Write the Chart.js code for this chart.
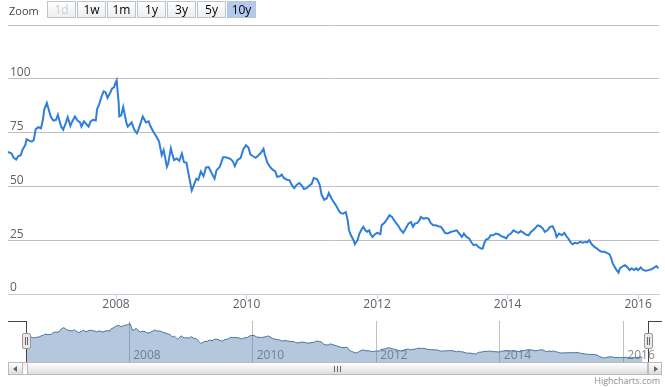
<!DOCTYPE html>
<html>
<head>
<meta charset="utf-8">
<script src="https://cdn.jsdelivr.net/npm/chart.js@4.4.1/dist/chart.umd.min.js"></script>
<style>
  body { margin: 0; background: #fff; font-family: "Open Sans", sans-serif; }
  #wrap { position: relative; width: 665px; height: 387px; overflow: hidden; }
  canvas { position: absolute; left: 0; }
  #main { top: 0; }
  #nav { top: 315px; }
  .zoom-label { position: absolute; left: 9px; top: 3px; font-size: 11px; color: #444; }
  .btn { position: absolute; top: 1px; width: 27px; height: 15px; border: 1px solid #bcc4d2;
         background: linear-gradient(#ffffff, #eeeeee); font-size: 12px; line-height: 15px;
         text-align: center; color: #000; }
  .btn.off { color: #cccccc; }
  .btn.on { background: #b4caec; }
  .line { position: absolute; background: #444; }
  .handle { position: absolute; top: 333px; width: 7px; height: 14px; border: 1px solid #9a9a9a;
            border-radius: 2px; background: #ebe7e8; }
  .handle::before, .handle::after { content: ""; position: absolute; top: 3px; width: 1px; height: 8px; background: #666; }
  .handle::before { left: 2px; }
  .handle::after { left: 4px; }
  .sb { position: absolute; top: 362px; height: 11px; border: 1px solid #bbb; }
  .track { left: 8px; width: 652px; background: linear-gradient(#eeeeee, #ffffff); }
  .thumb { left: 27px; width: 619px; background: linear-gradient(#ffffff, #dddddd); }
  .sbtn { background: linear-gradient(#ffffff, #dddddd); }
  .rifle { position: absolute; top: 3px; width: 1px; height: 6px; background: #666; }
  .arrow { position: absolute; top: 3px; width: 0; height: 0; border-top: 3px solid transparent; border-bottom: 3px solid transparent; }
  .credits { position: absolute; right: 5px; top: 375px; font-size: 9px; color: #909090; line-height: 11px; }
</style>
</head>
<body>
<div id="wrap">
  <canvas id="main" width="665" height="314"></canvas>
  <canvas id="nav" width="665" height="47"></canvas>

  <div class="zoom-label">Zoom</div>
  <div class="btn off" style="left:47px">1d</div>
  <div class="btn" style="left:77px">1w</div>
  <div class="btn" style="left:107px">1m</div>
  <div class="btn" style="left:137px">1y</div>
  <div class="btn" style="left:167px">3y</div>
  <div class="btn" style="left:197px">5y</div>
  <div class="btn on" style="left:227px">10y</div>

  <!-- navigator outline -->
  <div class="line" style="left:8px; top:321px; width:19px; height:1px"></div>
  <div class="line" style="left:26px; top:321px; width:1px; height:41px"></div>
  <div class="line" style="left:648px; top:321px; width:1px; height:41px"></div>
  <div class="line" style="left:648px; top:321px; width:14px; height:1px"></div>
  <div class="handle" style="left:22px"></div>
  <div class="handle" style="left:644px"></div>

  <!-- scrollbar -->
  <div class="sb track"></div>
  <div class="sb thumb">
    <div class="rifle" style="left:306px"></div>
    <div class="rifle" style="left:309px"></div>
    <div class="rifle" style="left:312px"></div>
  </div>
  <div class="sb sbtn" style="left:8px; width:13px">
    <div class="arrow" style="left:4px; border-right:4px solid #666"></div>
  </div>
  <div class="sb sbtn" style="left:648px; width:12px">
    <div class="arrow" style="left:5px; border-left:4px solid #666"></div>
  </div>

  <div class="credits">Highcharts.com</div>
</div>

<script>
// dates as decimal years
const dates = [
  2006.345, 2006.36, 2006.40, 2006.43, 2006.47, 2006.50, 2006.54, 2006.57, 2006.61, 2006.63,
  2006.67, 2006.71, 2006.74, 2006.77, 2006.81, 2006.85, 2006.88, 2006.90, 2006.94, 2006.97,
  2007.00, 2007.04, 2007.08, 2007.11, 2007.13, 2007.16, 2007.19, 2007.23, 2007.26, 2007.30,
  2007.33, 2007.37, 2007.41, 2007.45, 2007.47, 2007.51, 2007.54, 2007.58, 2007.61, 2007.65,
  2007.69, 2007.71, 2007.74, 2007.78, 2007.81, 2007.84, 2007.87, 2007.91, 2007.94, 2007.97,
  2007.99, 2008.01, 2008.04, 2008.05, 2008.08, 2008.11, 2008.14, 2008.16, 2008.18, 2008.24,
  2008.28, 2008.32, 2008.35, 2008.41, 2008.46, 2008.50, 2008.53, 2008.57, 2008.62, 2008.66,
  2008.70, 2008.73, 2008.75, 2008.78, 2008.80, 2008.84, 2008.86, 2008.89, 2008.93, 2008.97,
  2009.01, 2009.04, 2009.08, 2009.12, 2009.16, 2009.20, 2009.23, 2009.26, 2009.30, 2009.34,
  2009.38, 2009.42, 2009.47, 2009.51, 2009.54, 2009.59, 2009.64, 2009.67, 2009.71, 2009.75,
  2009.79, 2009.82, 2009.86, 2009.91, 2009.95, 2009.99, 2010.03, 2010.06, 2010.10, 2010.14,
  2010.18, 2010.22, 2010.26, 2010.28, 2010.32, 2010.36, 2010.40, 2010.44, 2010.47, 2010.51,
  2010.54, 2010.57, 2010.62, 2010.66, 2010.69, 2010.73, 2010.77, 2010.81, 2010.85, 2010.88,
  2010.92, 2010.96, 2011.00, 2011.03, 2011.08, 2011.12, 2011.15, 2011.19, 2011.23, 2011.26,
  2011.30, 2011.33, 2011.37, 2011.41, 2011.44, 2011.48, 2011.52, 2011.55, 2011.57, 2011.60,
  2011.64, 2011.66, 2011.70, 2011.73, 2011.77, 2011.79, 2011.82, 2011.85, 2011.88, 2011.90,
  2011.93, 2011.97, 2012.00, 2012.05, 2012.07, 2012.11, 2012.15, 2012.19, 2012.23, 2012.26,
  2012.29, 2012.33, 2012.36, 2012.40, 2012.44, 2012.48, 2012.52, 2012.55, 2012.58, 2012.62,
  2012.65, 2012.67, 2012.71, 2012.75, 2012.79, 2012.82, 2012.86, 2012.90, 2012.94, 2012.98,
  2013.01, 2013.04, 2013.08, 2013.12, 2013.17, 2013.22, 2013.26, 2013.30, 2013.33, 2013.37,
  2013.41, 2013.45, 2013.48, 2013.52, 2013.55, 2013.59, 2013.62, 2013.64, 2013.67, 2013.71,
  2013.74, 2013.78, 2013.82, 2013.86, 2013.90, 2013.94, 2013.98, 2014.01, 2014.05, 2014.09,
  2014.13, 2014.17, 2014.20, 2014.24, 2014.28, 2014.32, 2014.36, 2014.40, 2014.44, 2014.46,
  2014.50, 2014.54, 2014.57, 2014.61, 2014.65, 2014.69, 2014.73, 2014.75, 2014.79, 2014.83,
  2014.87, 2014.90, 2014.93, 2014.97, 2015.00, 2015.03, 2015.07, 2015.11, 2015.15, 2015.19,
  2015.22, 2015.25, 2015.29, 2015.33, 2015.37, 2015.41, 2015.44, 2015.48, 2015.52, 2015.56,
  2015.59, 2015.61, 2015.64, 2015.67, 2015.70, 2015.72, 2015.77, 2015.80, 2015.84, 2015.87,
  2015.90, 2015.94, 2015.97, 2016.00, 2016.04, 2016.08, 2016.12, 2016.16, 2016.19, 2016.23,
  2016.28, 2016.31
];

const closes = [
  66.0, 66.0, 65.3, 63.4, 62.5, 64.0, 64.5, 67.2, 69.2, 71.9,
  71.3, 70.8, 71.6, 76.6, 77.5, 77.0, 80.9, 85.6, 88.8, 85.6,
  82.5, 80.6, 80.9, 83.3, 80.9, 77.8, 76.3, 79.4, 82.2, 78.1,
  80.2, 82.5, 80.6, 79.7, 77.8, 80.2, 79.1, 77.8, 80.2, 80.9,
  80.6, 85.9, 88.0, 91.9, 94.2, 93.8, 91.1, 93.5, 95.5, 96.0,
  98.0, 99.3, 89.0, 82.5, 83.0, 86.9, 82.5, 79.4, 77.8, 79.7,
  76.3, 74.7, 77.0, 82.5, 79.7, 80.2, 77.8, 75.5, 73.1, 70.8,
  64.5, 66.9, 63.8, 59.1, 60.6, 67.7, 65.3, 62.2, 63.0, 61.9,
  65.3, 61.4, 61.0, 54.4, 48.1, 51.2, 53.6, 53.0, 56.9, 54.7,
  58.8, 59.0, 55.9, 53.6, 57.5, 59.1, 63.5, 63.5, 63.3, 62.8,
  61.7, 59.4, 62.2, 63.3, 67.2, 69.1, 68.0, 64.8, 64.0, 63.3,
  64.4, 65.6, 67.5, 64.8, 61.0, 59.1, 57.8, 57.0, 54.4, 54.7,
  55.5, 53.9, 53.1, 52.8, 50.8, 49.2, 50.8, 51.6, 50.3, 48.8,
  49.2, 50.3, 51.3, 53.9, 53.4, 50.8, 46.1, 43.8, 44.5, 46.9,
  44.5, 43.0, 41.2, 38.9, 37.7, 37.3, 38.1, 34.3, 29.6, 27.3,
  25.0, 23.1, 25.0, 28.1, 30.4, 31.2, 29.6, 28.9, 29.6, 27.8,
  26.5, 27.8, 28.4, 27.8, 32.0, 33.0, 34.6, 36.6, 35.8, 34.3,
  33.0, 31.5, 29.9, 28.4, 30.4, 32.7, 33.5, 31.2, 32.7, 33.0,
  34.3, 35.8, 35.0, 35.3, 35.0, 33.0, 31.9, 31.9, 31.5, 31.2,
  29.9, 28.4, 28.1, 28.7, 29.2, 29.6, 28.1, 26.5, 28.1, 26.5,
  25.8, 23.8, 22.7, 23.0, 21.9, 21.1, 21.1, 23.5, 25.3, 25.8,
  27.3, 27.3, 28.1, 27.8, 26.9, 26.5, 25.8, 27.3, 28.1, 29.6,
  28.9, 28.4, 29.3, 28.5, 27.6, 27.3, 28.9, 29.9, 31.2, 31.9,
  31.5, 30.4, 28.9, 29.6, 31.2, 31.5, 28.9, 26.5, 28.1, 27.3,
  28.4, 26.9, 25.8, 23.8, 23.1, 23.8, 23.5, 24.2, 23.8, 24.2,
  24.0, 25.0, 23.1, 21.9, 21.1, 20.1, 19.6, 19.6, 19.1, 18.5,
  16.5, 14.2, 12.7, 11.1, 9.9, 11.9, 13.0, 13.4, 12.3, 11.1,
  11.9, 11.1, 11.9, 11.1, 12.3, 11.1, 10.8, 11.1, 11.4, 11.9,
  13.0, 11.9
];

const yearTicks = [2008, 2010, 2012, 2014, 2016];
const rangeStart = 2006.345;
const rangeEnd = 2016.32;
const navEnd = 2016.40;

const points = dates.map((d, i) => ({ x: d, y: closes[i] }));

Chart.defaults.font.family = '"Open Sans", sans-serif';
Chart.defaults.font.size = 12;

function setYearTicks(scale) {
  scale.ticks = yearTicks.map(v => ({ value: v }));
}

function draw() {
  // main price chart
  new Chart(document.getElementById("main"), {
    type: "line",
    data: {
      datasets: [{
        data: points,
        borderColor: "#2f7ed8",
        borderWidth: 2,
        pointRadius: 0,
        tension: 0,
        fill: false
      }]
    },
    options: {
      responsive: false,
      animation: false,
      events: [],
      layout: { padding: { left: 8, right: 6, top: 25, bottom: 0 } },
      plugins: { legend: { display: false }, tooltip: { enabled: false } },
      scales: {
        x: {
          type: "linear",
          min: rangeStart,
          max: rangeEnd,
          afterBuildTicks: setYearTicks,
          afterFit: s => { s.height = 20; },
          ticks: { callback: v => String(v), color: "#606060", padding: -2, maxRotation: 0, autoSkip: false },
          grid: { drawOnChartArea: false, drawTicks: true, tickLength: 5, color: "#C0D0E0" },
          border: { color: "#C0D0E0" }
        },
        y: {
          min: 0,
          max: 125,
          afterFit: s => { s.width = 0; },
          ticks: {
            stepSize: 25,
            mirror: true,
            padding: 2,
            labelOffset: -6,
            color: "#606060",
            callback: v => (v === 125 ? "" : String(v))
          },
          grid: { color: "#C0C0C0", drawTicks: false },
          border: { display: false }
        }
      }
    }
  });

  // navigator
  new Chart(document.getElementById("nav"), {
    type: "line",
    data: {
      datasets: [{
        data: points,
        borderColor: "#4572A7",
        borderWidth: 1,
        backgroundColor: "rgba(69,114,167,0.4)",
        fill: "origin",
        pointRadius: 0,
        tension: 0
      }]
    },
    options: {
      responsive: false,
      animation: false,
      events: [],
      layout: { padding: { left: 27, right: 17, top: 6, bottom: 0 } },
      plugins: { legend: { display: false }, tooltip: { enabled: false } },
      scales: {
        x: {
          type: "linear",
          min: rangeStart,
          max: navEnd,
          afterBuildTicks: setYearTicks,
          afterFit: s => { s.height = 0; },
          ticks: { callback: v => String(v), mirror: true, align: "start", labelOffset: 4, padding: -1, color: "#888", maxRotation: 0, autoSkip: false },
          grid: { color: "#C0C0C0", drawTicks: false },
          border: { display: false }
        },
        y: { display: false, min: 0, max: 106 }
      }
    }
  });
}

document.fonts.load('12px "Open Sans"').then(draw, draw);
</script>
</body>
</html>
